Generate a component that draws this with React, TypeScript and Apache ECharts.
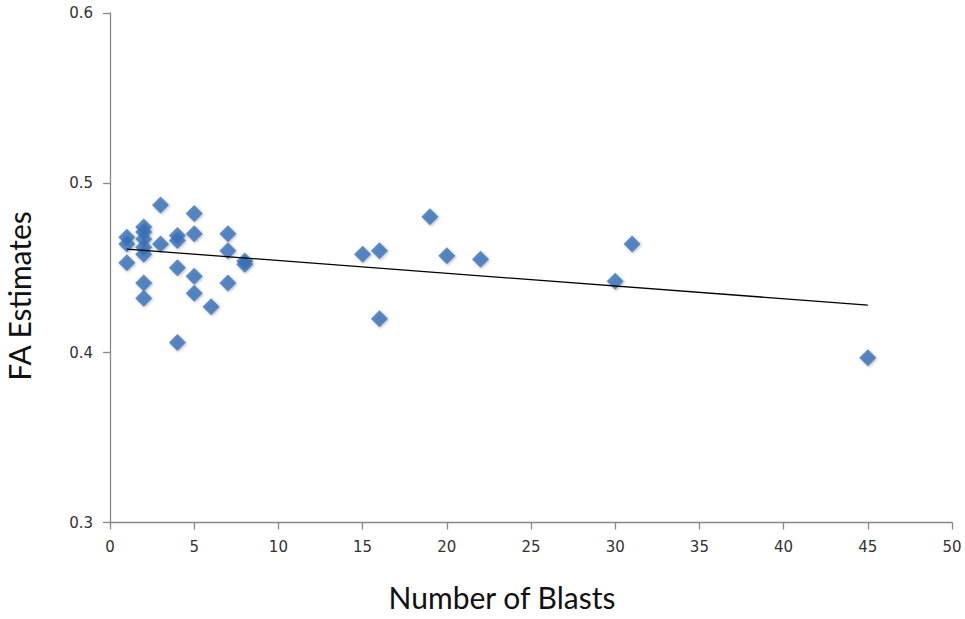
import React, { useEffect, useRef } from "react";
import * as echarts from "echarts";

const blasts = [1, 1, 1, 2, 2, 2, 2, 2, 2, 2, 3, 3, 4, 4, 4, 4, 5, 5, 5, 5, 6, 7, 7, 7, 8, 8, 15, 16, 16, 19, 20, 22, 30, 31, 45];
const faEstimates = [0.468, 0.464, 0.453, 0.474, 0.471, 0.467, 0.462, 0.458, 0.441, 0.432, 0.487, 0.464, 0.469, 0.466, 0.45, 0.406, 0.482, 0.47, 0.445, 0.435, 0.427, 0.47, 0.46, 0.441, 0.454, 0.452, 0.458, 0.46, 0.42, 0.48, 0.457, 0.455, 0.442, 0.464, 0.397];
const trendX = [1, 45];
const trendY = [0.461, 0.428];
const xTitle = "Number of Blasts";
const yTitle = "FA Estimates";

export default function App() {
  const ref = useRef<HTMLDivElement>(null);
  useEffect(() => {
    if (!ref.current) return;
    const chart = echarts.init(ref.current, undefined, { renderer: "svg" });
    const titleFont = "Lato, 'Open Sans', sans-serif";
    const tickFont = "'DejaVu Sans', sans-serif";
    chart.setOption({
      animation: false,
      backgroundColor: "#ffffff",
      grid: { left: 110, right: 13, top: 13, bottom: 96.5, containLabel: false },
      graphic: [
        {
          type: "text",
          x: 502,
          y: 597,
          style: { text: xTitle, fontSize: 30, fontFamily: titleFont, fill: "#111", textAlign: "center", textVerticalAlign: "middle" },
        },
        {
          type: "text",
          x: 19,
          y: 296,
          rotation: Math.PI / 2,
          style: { text: yTitle, fontSize: 30, fontFamily: titleFont, fill: "#111", textAlign: "center", textVerticalAlign: "middle" },
        },
      ],
      xAxis: {
        type: "value",
        min: 0,
        max: 50,
        interval: 5,
        axisLine: { show: true, lineStyle: { color: "#888", width: 1.3 } },
        axisTick: { show: true, length: 7, lineStyle: { color: "#888", width: 1.3 } },
        axisLabel: { fontSize: 15, color: "#333", margin: 17, fontFamily: tickFont },
        splitLine: { show: false },
      },
      yAxis: {
        type: "value",
        min: 0.3,
        max: 0.6,
        interval: 0.1,
        axisLine: { show: true, lineStyle: { color: "#888", width: 1.3 } },
        axisTick: { show: true, length: 7, lineStyle: { color: "#888", width: 1.3 } },
        axisLabel: { fontSize: 15, color: "#333", margin: 17, fontFamily: tickFont, formatter: (v: number) => v.toFixed(1) },
        splitLine: { show: false },
      },
      series: [
        {
          type: "line",
          data: trendX.map((x, i) => [x, trendY[i]]),
          showSymbol: false,
          symbol: "none",
          lineStyle: { color: "#000", width: 1.3 },
          silent: true,
          z: 3,
        },
        {
          type: "scatter",
          data: blasts.map((x, i) => [x, faEstimates[i]]),
          symbol: "diamond",
          symbolSize: 17,
          itemStyle: {
            color: "#3A72BA",
            shadowBlur: 3,
            shadowColor: "rgba(0,0,0,0.35)",
            shadowOffsetX: 1,
            shadowOffsetY: 1,
          },
          z: 2,
        },
      ],
    });
    return () => chart.dispose();
  }, []);
  return <div ref={ref} style={{ position: "fixed", left: 0, top: 0, width: 965, height: 619 }} />;
}
